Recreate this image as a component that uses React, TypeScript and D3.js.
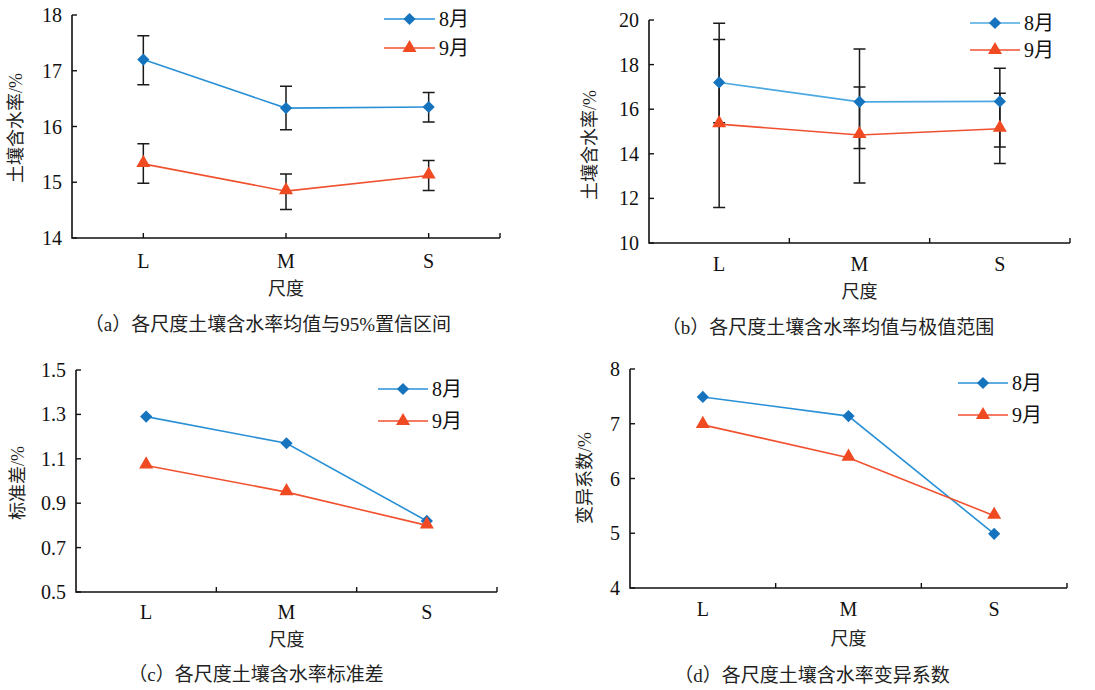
import React, { useEffect, useRef } from "react";
import * as d3 from "d3";

const scales = ["L", "M", "S"];
const months = ["8月", "9月"];

// (a) mean with 95% CI
const meanAug = [17.2, 16.33, 16.35];
const meanSep = [15.33, 14.84, 15.12];
const ciAugLow = [16.75, 15.94, 16.08];
const ciAugHigh = [17.63, 16.72, 16.61];
const ciSepLow = [14.98, 14.51, 14.85];
const ciSepHigh = [15.69, 15.15, 15.39];

// (b) mean with min / max
const rangeAugMin = [15.39, 14.24, 14.31];
const rangeAugMax = [19.85, 18.7, 17.84];
const rangeSepMin = [11.59, 12.69, 13.56];
const rangeSepMax = [19.13, 17.0, 16.72];

// (c) standard deviation, (d) coefficient of variation
const sdAug = [1.29, 1.17, 0.82];
const sdSep = [1.07, 0.95, 0.8];
const cvAug = [7.49, 7.14, 4.99];
const cvSep = [6.98, 6.38, 5.32];

const ticksA = [14, 15, 16, 17, 18];
const ticksB = [10, 12, 14, 16, 18, 20];
const ticksC = [0.5, 0.7, 0.9, 1.1, 1.3, 1.5];
const ticksD = [4, 5, 6, 7, 8];

const blueLine = "#2a90d6";
const blueMark = "#1673bd";
const redLine = "#f0512f";
const redMark = "#f04a22";

const serif = "'Liberation Serif', 'Times New Roman', serif";
const mixed = "'Liberation Serif', 'Noto Sans CJK SC', serif";
const cjk = "'Noto Sans CJK SC', sans-serif";

const panels = [
  {
    box: { l: 72, r: 500, t: 15, b: 238 },
    domain: [14, 18], ticks: ticksA, fmt: d3.format("d"),
    a: meanAug, s: meanSep,
    errA: [ciAugLow, ciAugHigh], errS: [ciSepLow, ciSepHigh],
    ticksAtCenter: true,
    ylabel: "土壤含水率/%", ylx: 16, yly: 128,
    xly: 261, titley: 289, cap: "（a）各尺度土壤含水率均值与95%置信区间", capx: 268, capy: 324,
    leg: { x0: 384, x1: 435, y0: 19, y1: 48 }, aLine: blueLine,
  },
  {
    box: { l: 649, r: 1070, t: 20, b: 243 },
    domain: [10, 20], ticks: ticksB, fmt: d3.format("d"),
    a: meanAug, s: meanSep,
    errA: [rangeAugMin, rangeAugMax], errS: [rangeSepMin, rangeSepMax],
    ticksAtCenter: false,
    ylabel: "土壤含水率/%", ylx: 590, yly: 145,
    xly: 264, titley: 292, cap: "（b）各尺度土壤含水率均值与极值范围", capx: 828, capy: 327,
    leg: { x0: 970, x1: 1020, y0: 23, y1: 50 }, aLine: "#4aa8e2",
  },
  {
    box: { l: 76, r: 497, t: 370, b: 592 },
    domain: [0.5, 1.5], ticks: ticksC, fmt: d3.format(".1f"),
    a: sdAug, s: sdSep, errA: null, errS: null,
    ticksAtCenter: false,
    ylabel: "标准差/%", ylx: 18, yly: 483,
    xly: 612, titley: 640, cap: "（c）各尺度土壤含水率标准差", capx: 256, capy: 674,
    leg: { x0: 378, x1: 428, y0: 389, y1: 421 }, aLine: blueLine,
  },
  {
    box: { l: 630, r: 1067, t: 369, b: 588 },
    domain: [4, 8], ticks: ticksD, fmt: d3.format("d"),
    a: cvAug, s: cvSep, errA: null, errS: null,
    ticksAtCenter: false,
    ylabel: "变异系数/%", ylx: 585, yly: 478,
    xly: 609, titley: 639, cap: "（d）各尺度土壤含水率变异系数", capx: 812, capy: 675,
    leg: { x0: 958, x1: 1008, y0: 383, y1: 415 }, aLine: blueLine,
  },
];

const diamond = d3.symbol().type(d3.symbolDiamond2).size(95);
const triangle = d3.symbol().type(d3.symbolTriangle).size(85);

const App = () => {
  const ref = useRef<SVGSVGElement | null>(null);

  useEffect(() => {
    const svg = d3.select(ref.current);
    svg.selectAll("*").remove();

    panels.forEach((p) => {
      const g = svg.append("g");
      const { l, r, t, b } = p.box;
      const x = d3.scaleBand().domain(scales).range([l, r]).paddingInner(0).paddingOuter(0);
      const cx = (c) => x(c) + x.bandwidth() / 2;
      const y = d3.scaleLinear().domain(p.domain).range([b, t]);

      // axes
      g.append("path")
        .attr("d", `M${l},${t}V${b}H${r}`)
        .attr("fill", "none").attr("stroke", "#111").attr("stroke-width", 1.6);
      p.ticks.forEach((v) => {
        g.append("line").attr("x1", l).attr("x2", l + 5).attr("y1", y(v)).attr("y2", y(v))
          .attr("stroke", "#111").attr("stroke-width", 1.4);
        g.append("text").attr("x", l - 10).attr("y", y(v)).attr("dy", "0.35em")
          .attr("text-anchor", "end").style("font-family", serif).style("font-size", "20px")
          .attr("fill", "#111").text(p.fmt(v));
      });
      const xt = p.ticksAtCenter
        ? scales.map(cx).concat([r])
        : scales.slice(1).map((c) => x(c)).concat([r]);
      xt.forEach((xv) => {
        g.append("line").attr("x1", xv).attr("x2", xv).attr("y1", b).attr("y2", b - 5)
          .attr("stroke", "#111").attr("stroke-width", 1.4);
      });
      scales.forEach((c) => {
        g.append("text").attr("x", cx(c)).attr("y", p.xly).attr("dy", "0.35em")
          .attr("text-anchor", "middle").style("font-family", serif).style("font-size", "20px")
          .attr("fill", "#111").text(c);
      });
      g.append("text").attr("x", (l + r) / 2).attr("y", p.titley).attr("dy", "0.35em")
        .attr("text-anchor", "middle").style("font-family", cjk).style("font-size", "18px")
        .attr("fill", "#222").text("尺度");
      g.append("text")
        .attr("transform", `translate(${p.ylx},${p.yly}) rotate(-90)`)
        .attr("dy", "0.35em").attr("text-anchor", "middle")
        .style("font-family", mixed).style("font-size", "18px").attr("fill", "#222").text(p.ylabel);
      g.append("text").attr("x", p.capx).attr("y", p.capy).attr("dy", "0.35em")
        .attr("text-anchor", "middle").style("font-family", mixed).style("font-size", "19px")
        .attr("fill", "#222").text(p.cap);

      // error bars
      [p.errA, p.errS].forEach((err) => {
        if (!err) return;
        scales.forEach((c, i) => {
          const xv = cx(c);
          const y0 = y(err[0][i]);
          const y1 = y(err[1][i]);
          g.append("path")
            .attr("d", `M${xv},${y0}V${y1}M${xv - 6},${y0}H${xv + 6}M${xv - 6},${y1}H${xv + 6}`)
            .attr("fill", "none").attr("stroke", "#1a1a1a").attr("stroke-width", 1.5);
        });
      });

      const line = d3.line<number>().x((d, i) => cx(scales[i])).y((d) => y(d));
      g.append("path").attr("d", line(p.a)).attr("fill", "none")
        .attr("stroke", p.aLine).attr("stroke-width", 1.6);
      g.append("path").attr("d", line(p.s)).attr("fill", "none")
        .attr("stroke", redLine).attr("stroke-width", 1.6);

      p.a.forEach((v, i) => {
        g.append("path").attr("d", diamond()).attr("transform", `translate(${cx(scales[i])},${y(v)})`)
          .attr("fill", blueMark);
      });
      p.s.forEach((v, i) => {
        g.append("path").attr("d", triangle()).attr("transform", `translate(${cx(scales[i])},${y(v) - 1})`)
          .attr("fill", redMark);
      });

      // legend
      const lg = p.leg;
      const mid = (lg.x0 + lg.x1) / 2;
      [
        { yy: lg.y0, stroke: p.aLine, mark: diamond, fill: blueMark, label: months[0] },
        { yy: lg.y1, stroke: redLine, mark: triangle, fill: redMark, label: months[1] },
      ].forEach((it) => {
        g.append("line").attr("x1", lg.x0).attr("x2", lg.x1).attr("y1", it.yy).attr("y2", it.yy)
          .attr("stroke", it.stroke).attr("stroke-width", 1.6);
        g.append("path").attr("d", it.mark()).attr("transform", `translate(${mid},${it.yy})`)
          .attr("fill", it.fill);
        g.append("text").attr("x", lg.x1 + 4).attr("y", it.yy).attr("dy", "0.35em")
          .style("font-family", mixed).style("font-size", "20px").attr("fill", "#111")
          .text(it.label);
      });
    });
  }, []);

  return (
    <svg
      ref={ref}
      width={1095}
      height={690}
      style={{ position: "absolute", left: 0, top: 0, background: "#fff" }}
    />
  );
};

export default App;
